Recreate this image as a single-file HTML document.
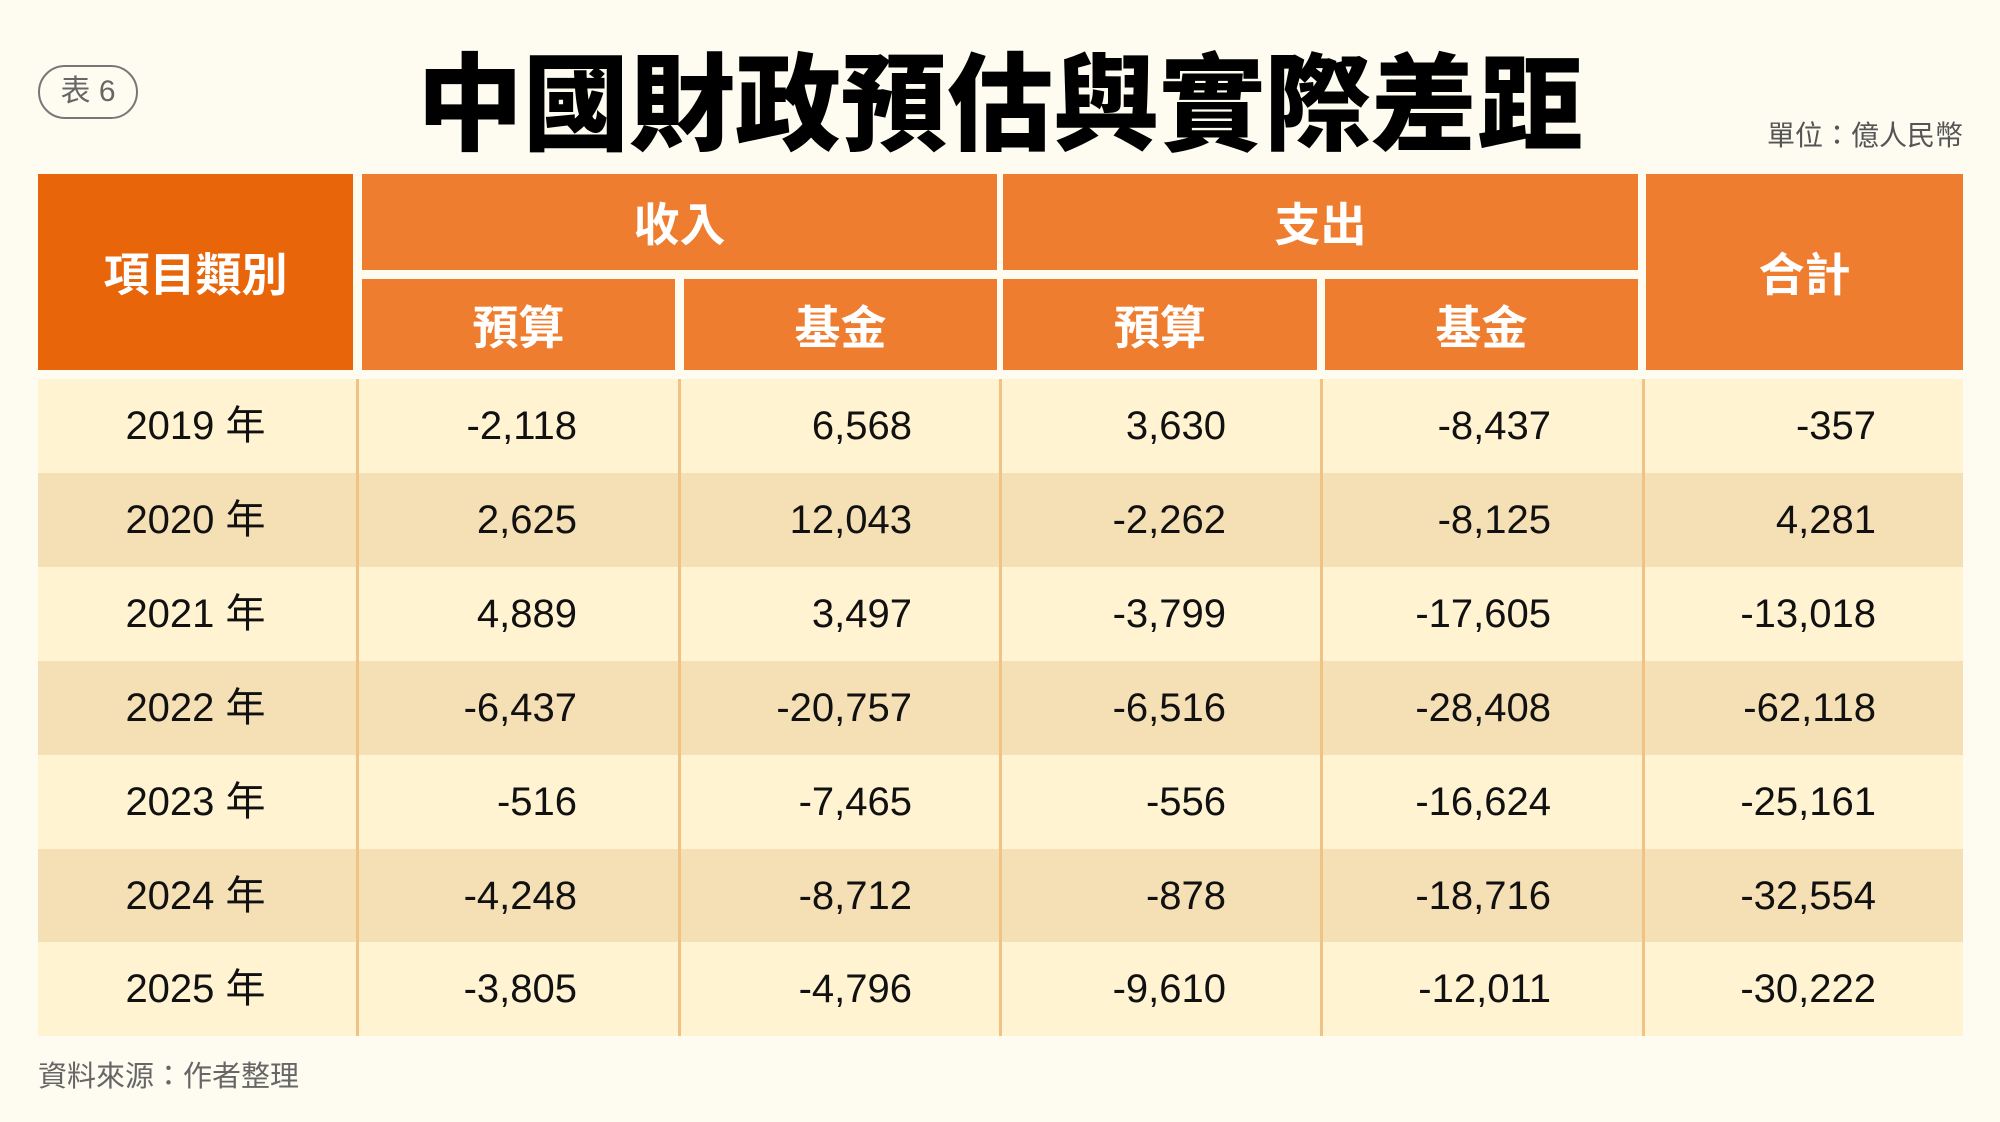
<!DOCTYPE html>
<html><head><meta charset="utf-8"><style>
body{margin:0;width:2000px;height:1122px;background:#fefcf0;position:relative;overflow:hidden;font-family:"Liberation Sans","Noto Sans CJK TC",sans-serif}
.abs{position:absolute}
.badge{left:38px;top:65px;width:96px;height:50px;border:2.5px solid #777;border-radius:27px;color:#666;font-size:30px;line-height:50px;text-align:center}
.title{left:300px;top:36px;width:1400px;text-align:center;font-size:106px;font-weight:900;color:#000;line-height:120px;white-space:nowrap;font-family:"Noto Sans CJK TC","Noto Sans CJK SC",sans-serif}
.unit{left:1740px;top:114px;width:223px;text-align:right;font-size:28px;color:#555}
.h{background:#ee7d30;color:#fff;font-weight:bold;font-size:46px;display:flex;align-items:center;justify-content:center;font-family:"Noto Sans CJK TC",sans-serif}
.row{position:absolute;left:38px;width:1925px;height:94px}
.c{position:absolute;top:0;height:94px;line-height:94px;font-size:40px;color:#111;text-align:right}
.sep{position:absolute;top:379px;height:657px;width:3px;background:#f0c384}
.foot{left:38px;top:1053px;font-size:29px;color:#666}
</style></head><body>
<div class="abs badge">表 6</div>
<div class="abs title">中國財政預估與實際差距</div>
<div class="abs unit">單位：億人民幣</div>

<div class="abs h" style="left:38px;top:174px;width:315px;height:196px;background:#e8650a">項目類別</div>
<div class="abs h" style="left:362px;top:174px;width:635px;height:96px">收入</div>
<div class="abs h" style="left:1003px;top:174px;width:635px;height:96px">支出</div>
<div class="abs h" style="left:1646px;top:174px;width:317px;height:196px">合計</div>
<div class="abs h" style="left:362px;top:279px;width:313px;height:91px">預算</div>
<div class="abs h" style="left:684px;top:279px;width:313px;height:91px">基金</div>
<div class="abs h" style="left:1003px;top:279px;width:314px;height:91px">預算</div>
<div class="abs h" style="left:1325px;top:279px;width:313px;height:91px">基金</div>

<div id="rows"></div>
<script>
var d=[["2019","-2,118","6,568","3,630","-8,437","-357"],["2020","2,625","12,043","-2,262","-8,125","4,281"],["2021","4,889","3,497","-3,799","-17,605","-13,018"],["2022","-6,437","-20,757","-6,516","-28,408","-62,118"],["2023","-516","-7,465","-556","-16,624","-25,161"],["2024","-4,248","-8,712","-878","-18,716","-32,554"],["2025","-3,805","-4,796","-9,610","-12,011","-30,222"]];
var rights=[577,912,1226,1551,1876];var h="";
d.forEach(function(r,i){var top=379+i*93.9;
h+='<div class="row" style="top:'+top+'px;background:'+(i%2?'#f5dfb4':'#fff3d2')+'">';
h+='<div class="c" style="left:0;width:315px;text-align:center">'+r[0]+' 年</div>';
for(var j=0;j<5;j++){h+='<div class="c" style="left:0;width:'+(rights[j]-38)+'px">'+r[j+1]+'</div>';}
h+='</div>';});
[357,679,1000,1321,1643].forEach(function(x){h+='<div class="sep" style="left:'+(x-1)+'px"></div>';});
document.getElementById('rows').innerHTML=h;
</script>
<div class="abs foot">資料來源：作者整理</div>
</body></html>
